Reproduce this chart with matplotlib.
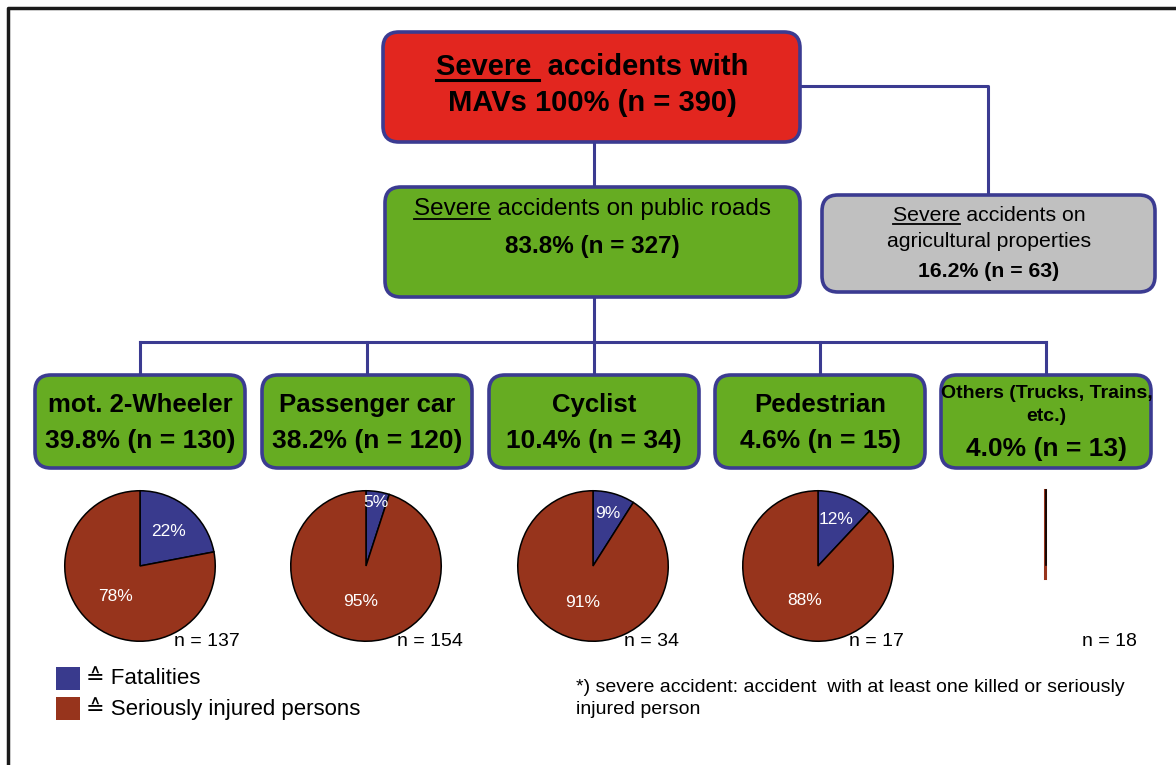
import matplotlib

matplotlib.use("Agg")
import matplotlib.pyplot as plt
import numpy as np
from matplotlib.patches import FancyBboxPatch, Rectangle

plt.rcParams["font.family"] = ["Liberation Sans", "DejaVu Sans"]

# data
top_lines = ["Severe  accidents with", "MAVs 100% (n = 390)"]
road_lines = ["Severe accidents on public roads", "83.8% (n = 327)"]
agri_lines = ["Severe accidents on", "agricultural properties", "16.2% (n = 63)"]
categories = ["mot. 2-Wheeler", "Passenger car", "Cyclist", "Pedestrian",
              "Others (Trucks, Trains,\netc.)"]
category_share = ["39.8% (n = 130)", "38.2% (n = 120)", "10.4% (n = 34)",
                  "4.6% (n = 15)", "4.0% (n = 13)"]
fatal_pct = [22, 5, 9, 12]
injured_pct = [78, 95, 91, 88]
pie_n = [137, 154, 34, 17, 18]
legend_labels = ["\u2259 Fatalities", "\u2259 Seriously injured persons"]
footnote = ["*) severe accident: accident  with at least one killed or seriously",
            "injured person"]

RED = "#E2261F"
GREEN = "#66AC22"
GRAY = "#C0C0C0"
EDGE = "#3B3B91"
BLUE = "#393A8D"
BROWN = "#97341C"

W, H = 1176, 765
fig = plt.figure(figsize=(W / 100, H / 100), dpi=100)
ax = fig.add_axes([0, 0, 1, 1])
ax.set_xlim(0, W)
ax.set_ylim(H, 0)
ax.axis("off")


def box(x, y, w, h, color):
    ax.add_patch(FancyBboxPatch((x, y), w, h, boxstyle="round,pad=0,rounding_size=16",
                                fc=color, ec=EDGE, lw=2.6, zorder=2))


def underline_first_word(txt, word, fontsize):
    renderer = fig.canvas.get_renderer()
    bb = txt.get_window_extent(renderer)
    probe = ax.text(0, 0, word, fontsize=fontsize, weight=txt.get_weight())
    wb = probe.get_window_extent(renderer)
    probe.remove()
    inv = ax.transData.inverted()
    x0, y0 = inv.transform((bb.x0, bb.y0))
    x1, _ = inv.transform((bb.x0 + wb.width, bb.y0))
    ax.plot([x0, x1], [y0 - 1, y0 - 1], color="black",
            lw=2.2 if txt.get_weight() == "bold" else 1.3, zorder=4)


# outer frame
ax.plot([8, 8, W], [H, 8, 8], color="#1a1a1a", lw=2.5, solid_capstyle="butt")

# connectors
lc = dict(color=EDGE, lw=2.2, zorder=1)
ax.plot([594, 594], [142, 187], **lc)
ax.plot([800, 988, 988], [86, 86, 195], **lc)
ax.plot([594, 594], [297, 342], **lc)
cat_x = [35, 262, 489, 715, 941]
cat_w = 210
centers = [x + cat_w / 2 for x in cat_x]
ax.plot([centers[0], centers[-1]], [342, 342], **lc)
for cx in centers:
    ax.plot([cx, cx], [342, 375], **lc)

# top box
box(383, 32, 417, 110, RED)
t = ax.text(592, 67, top_lines[0], fontsize=21, weight="bold", ha="center", va="center", zorder=3)
underline_first_word(t, "Severe ", 21)
ax.text(592, 103, top_lines[1], fontsize=21, weight="bold", ha="center", va="center", zorder=3)

# public roads box
box(385, 187, 415, 110, GREEN)
t = ax.text(592, 209, road_lines[0], fontsize=17.5, ha="center", va="center", zorder=3)
underline_first_word(t, "Severe", 17.5)
ax.text(592, 246, road_lines[1], fontsize=17.5, weight="bold", ha="center", va="center", zorder=3)

# agricultural box
box(822, 195, 333, 97, GRAY)
t = ax.text(989, 215, agri_lines[0], fontsize=15.3, ha="center", va="center", zorder=3)
underline_first_word(t, "Severe", 15.3)
ax.text(989, 241, agri_lines[1], fontsize=15.3, ha="center", va="center", zorder=3)
ax.text(989, 271, agri_lines[2], fontsize=15.3, weight="bold", ha="center", va="center", zorder=3)

# category boxes
for i, (cx, name, share) in enumerate(zip(centers, categories, category_share)):
    box(cat_x[i], 375, cat_w, 93, GREEN)
    if "\n" in name:
        l1, l2 = name.split("\n")
        ax.text(cx + 1, 393, l1, fontsize=14, weight="bold", ha="center", va="center", zorder=3)
        ax.text(cx, 416, l2, fontsize=14, weight="bold", ha="center", va="center", zorder=3)
        ax.text(cx, 449, share, fontsize=19, weight="bold", ha="center", va="center", zorder=3)
    else:
        ax.text(cx, 405, name, fontsize=18.5, weight="bold", ha="center", va="center", zorder=3)
        ax.text(cx, 441, share, fontsize=19, weight="bold", ha="center", va="center", zorder=3)

# pies
pie_cx = [140, 366, 593, 818]
pie_cy = 566
R = 76
small_dist = [0.6, 0.86, 0.72, 0.66]
big_dist = [0.52, 0.48, 0.5, 0.5]
for i, (f, s) in enumerate(zip(fatal_pct, injured_pct)):
    pax = fig.add_axes([(pie_cx[i] - R) / W, 1 - (pie_cy + R) / H, 2 * R / W, 2 * R / H])
    wedges, _ = pax.pie([f, s], colors=[BLUE, BROWN], startangle=90, counterclock=False,
                        wedgeprops=dict(edgecolor="black", linewidth=1.1))
    pax.set_xlim(-1.01, 1.01)
    pax.set_ylim(-1.01, 1.01)
    for wdg, val, d in zip(wedges, [f, s], [small_dist[i], big_dist[i]]):
        ang = np.deg2rad((wdg.theta1 + wdg.theta2) / 2)
        pax.text(d * np.cos(ang), d * np.sin(ang), f"{val}%", color="white",
                 fontsize=12.5, ha="center", va="center")

# degenerate "Others" pie (only its edge is visible)
ax.plot([centers[-1] - 1, centers[-1] - 1], [490, 578], color=BROWN, lw=2.2, zorder=2)
ax.plot([centers[-1], centers[-1]], [490, 565], color="black", lw=1.2, zorder=2)

n_x = [207, 430, 652, 876, 1109]
for x, n in zip(n_x, pie_n):
    ax.text(x, 641, f"n = {n}", fontsize=14, ha="center", va="center", zorder=3)

# legend
for j, (lab, col) in enumerate(zip(legend_labels, [BLUE, BROWN])):
    y = 667 + j * 30
    ax.add_patch(Rectangle((56, y), 24, 23, fc=col, ec="none"))
    ax.text(86, y + 12, lab, fontsize=16, ha="left", va="center")

# footnote
ax.text(576, 688, footnote[0], fontsize=14, ha="left", va="center")
ax.text(576, 710, footnote[1], fontsize=14, ha="left", va="center")

fig.savefig("out.png", dpi=100)
